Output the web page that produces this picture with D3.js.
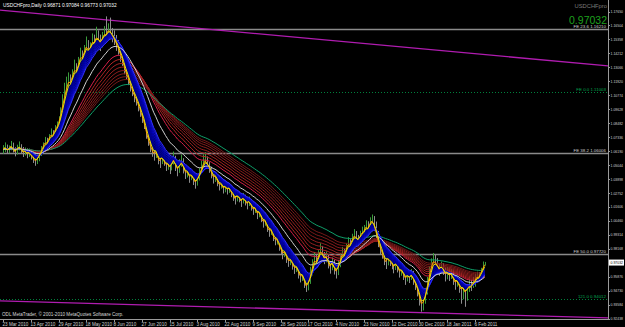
<!DOCTYPE html>
<html>
<head>
<meta charset="utf-8">
<script src="https://cdn.jsdelivr.net/npm/d3@7"></script>
<style>
html, body { margin: 0; padding: 0; background: #000; }
svg { display: block; }
text { font-family: "Liberation Sans", Arial, sans-serif; }
</style>
</head>
<body>
<svg id="chart" width="625" height="327"></svg>
<script>
// daily bars, 23 Mar 2010 .. 14 Feb 2011
var closes = [
  1.0632,1.0655,1.0618,1.0641,1.0670,1.0628,1.0602,1.0645,1.0660,1.0634,1.0597,1.0620,1.0588,1.0612,
  1.0575,1.0556,1.0531,1.0548,1.0590,1.0622,1.0664,1.0701,1.0684,1.0730,1.0762,1.0745,1.0798,1.0824,
  1.0861,1.0935,1.1020,1.1095,1.1160,1.1210,1.1185,1.1250,1.1302,1.1275,1.1348,1.1410,1.1386,1.1452,
  1.1495,1.1440,1.1478,1.1530,1.1512,1.1565,1.1540,1.1498,1.1552,1.1590,1.1575,1.1620,1.1602,1.1558,
  1.1530,1.1490,1.1455,1.1400,1.1360,1.1295,1.1240,1.1205,1.1150,1.1110,1.1062,1.1035,1.0990,1.0945,
  1.0890,1.0842,1.0765,1.0700,1.0655,1.0610,1.0585,1.0620,1.0548,1.0525,1.0570,1.0535,1.0498,1.0512,
  1.0475,1.0522,1.0560,1.0490,1.0455,1.0510,1.0535,1.0470,1.0428,1.0446,1.0395,1.0420,1.0378,1.0352,
  1.0395,1.0440,1.0485,1.0530,1.0555,1.0505,1.0470,1.0432,1.0390,1.0412,1.0365,1.0330,1.0348,1.0302,
  1.0330,1.0295,1.0318,1.0270,1.0248,1.0215,1.0260,1.0232,1.0195,1.0240,1.0205,1.0178,1.0210,1.0165,
  1.0130,1.0152,1.0095,1.0118,1.0070,1.0025,1.0048,0.9990,0.9955,0.9972,0.9915,0.9880,0.9895,0.9840,
  0.9805,0.9765,0.9790,0.9735,0.9702,0.9725,0.9680,0.9648,0.9665,0.9610,0.9575,0.9598,0.9530,0.9490,
  0.9545,0.9610,0.9685,0.9742,0.9705,0.9768,0.9810,0.9775,0.9720,0.9752,0.9690,0.9655,0.9708,0.9645,
  0.9618,0.9680,0.9735,0.9790,0.9762,0.9825,0.9870,0.9845,0.9902,0.9935,0.9910,0.9880,0.9925,0.9960,
  0.9965,1.0010,0.9978,1.0035,1.0058,1.0012,0.9940,0.9870,0.9810,0.9775,0.9720,0.9695,0.9740,0.9712,
  0.9690,0.9655,0.9700,0.9660,0.9615,0.9640,0.9595,0.9560,0.9602,0.9575,0.9610,0.9552,0.9515,0.9470,
  0.9400,0.9335,0.9380,0.9452,0.9540,0.9625,0.9690,0.9735,0.9705,0.9668,0.9632,0.9675,0.9640,0.9595,
  0.9625,0.9590,0.9612,0.9560,0.9528,0.9555,0.9502,0.9470,0.9495,0.9448,0.9485,0.9520,0.9505,0.9548,
  0.9560,0.9595,0.9580,0.9632,0.9668,0.97032
];
var highs = [
  1.0668,1.0690,1.0672,1.0665,1.0702,1.0688,1.0650,1.0671,1.0698,1.0675,1.0652,1.0648,1.0641,1.0640,
  1.0630,1.0601,1.0572,1.0580,1.0615,1.0660,1.0690,1.0735,1.0728,1.0758,1.0805,1.0790,1.0832,1.0862,
  1.0905,1.0978,1.1085,1.1180,1.1230,1.1265,1.1248,1.1290,1.1370,1.1340,1.1392,1.1468,1.1445,1.1490,
  1.1560,1.1530,1.1512,1.1585,1.1575,1.1640,1.1610,1.1575,1.1598,1.1645,1.1725,1.1668,1.1715,1.1630,
  1.1610,1.1572,1.1530,1.1478,1.1422,1.1390,1.1320,1.1280,1.1230,1.1188,1.1140,1.1098,1.1060,1.1015,
  1.0968,1.0915,1.0862,1.0790,1.0738,1.0690,1.0648,1.0702,1.0645,1.0590,1.0625,1.0605,1.0568,1.0560,
  1.0548,1.0575,1.0615,1.0580,1.0512,1.0552,1.0590,1.0560,1.0495,1.0488,1.0460,1.0462,1.0440,1.0405,
  1.0430,1.0478,1.0540,1.0592,1.0610,1.0575,1.0528,1.0490,1.0450,1.0445,1.0420,1.0382,1.0390,1.0365,
  1.0365,1.0352,1.0350,1.0335,1.0298,1.0270,1.0292,1.0285,1.0245,1.0275,1.0260,1.0230,1.0245,1.0225,
  1.0190,1.0185,1.0165,1.0150,1.0130,1.0085,1.0080,1.0062,1.0010,1.0008,0.9985,0.9940,0.9935,0.9910,
  0.9870,0.9828,0.9825,0.9805,0.9760,0.9768,0.9740,0.9705,0.9710,0.9690,0.9640,0.9635,0.9618,0.9560,
  0.9590,0.9668,0.9730,0.9790,0.9770,0.9805,0.9862,0.9840,0.9790,0.9795,0.9770,0.9712,0.9745,0.9725,
  0.9670,0.9722,0.9780,0.9832,0.9818,0.9860,0.9912,0.9895,0.9940,0.9978,0.9962,0.9930,0.9965,0.9998,
  1.0012,1.0050,1.0042,1.0075,1.0098,1.0085,1.0040,0.9962,0.9905,0.9840,0.9800,0.9760,0.9785,0.9770,
  0.9755,0.9725,0.9740,0.9728,0.9690,0.9680,0.9668,0.9620,0.9645,0.9630,0.9650,0.9635,0.9580,0.9540,
  0.9488,0.9410,0.9420,0.9495,0.9585,0.9672,0.9738,0.9782,0.9768,0.9740,0.9690,0.9712,0.9698,0.9662,
  0.9668,0.9660,0.9650,0.9640,0.9595,0.9590,0.9572,0.9530,0.9525,0.9512,0.9520,0.9565,0.9560,0.9585,
  0.9610,0.9628,0.9625,0.9660,0.9712,0.97084
];
var lows = [
  1.0598,1.0610,1.0596,1.0602,1.0625,1.0607,1.0575,1.0590,1.0624,1.0601,1.0570,1.0582,1.0560,1.0571,
  1.0550,1.0521,1.0498,1.0512,1.0535,1.0578,1.0610,1.0648,1.0650,1.0671,1.0718,1.0712,1.0730,1.0779,
  1.0802,1.0840,1.0920,1.1002,1.1070,1.1128,1.1120,1.1160,1.1228,1.1215,1.1255,1.1330,1.1340,1.1370,
  1.1410,1.1395,1.1415,1.1455,1.1460,1.1490,1.1482,1.1440,1.1470,1.1520,1.1530,1.1550,1.1540,1.1512,
  1.1490,1.1442,1.1410,1.1352,1.1318,1.1250,1.1205,1.1160,1.1108,1.1070,1.1020,1.0992,1.0945,1.0900,
  1.0850,1.0800,1.0720,1.0662,1.0610,1.0572,1.0540,1.0562,1.0510,1.0480,1.0512,1.0498,1.0455,1.0465,
  1.0430,1.0460,1.0508,1.0455,1.0412,1.0440,1.0490,1.0435,1.0390,1.0402,1.0358,1.0380,1.0340,1.0310,
  1.0335,1.0378,1.0430,1.0470,1.0510,1.0480,1.0440,1.0395,1.0352,1.0365,1.0330,1.0295,1.0310,1.0270,
  1.0280,1.0262,1.0275,1.0240,1.0210,1.0180,1.0205,1.0198,1.0160,1.0188,1.0172,1.0140,1.0168,1.0130,
  1.0095,1.0110,1.0060,1.0075,1.0035,0.9990,1.0005,0.9955,0.9915,0.9930,0.9880,0.9845,0.9852,0.9800,
  0.9770,0.9730,0.9748,0.9700,0.9668,0.9682,0.9645,0.9610,0.9625,0.9572,0.9540,0.9552,0.9495,0.9462,
  0.9475,0.9528,0.9598,0.9660,0.9670,0.9698,0.9745,0.9738,0.9690,0.9705,0.9655,0.9612,0.9640,0.9605,
  0.9572,0.9600,0.9665,0.9720,0.9730,0.9752,0.9810,0.9808,0.9835,0.9885,0.9870,0.9840,0.9862,0.9900,
  0.9920,0.9950,0.9940,0.9965,1.0010,0.9985,0.9905,0.9830,0.9768,0.9735,0.9682,0.9650,0.9680,0.9675,
  0.9648,0.9615,0.9642,0.9622,0.9580,0.9595,0.9560,0.9520,0.9548,0.9535,0.9560,0.9520,0.9478,0.9425,
  0.9350,0.9300,0.9310,0.9365,0.9440,0.9530,0.9615,0.9668,0.9660,0.9620,0.9595,0.9615,0.9602,0.9548,
  0.9565,0.9552,0.9568,0.9520,0.9480,0.9505,0.9455,0.9365,0.9402,0.9340,0.9390,0.9462,0.9470,0.9495,
  0.9505,0.9545,0.9550,0.9570,0.9615,0.96773
];

// one date label every 14 bars
var dateLabels = ["23 Mar 2010","13 Apr 2010","29 Apr 2010","18 May 2010","8 Jun 2010","27 Jun 2010",
  "15 Jul 2010","3 Aug 2010","22 Aug 2010","9 Sep 2010","28 Sep 2010","17 Oct 2010","4 Nov 2010",
  "23 Nov 2010","12 Dec 2010","30 Dec 2010","18 Jan 2011","6 Feb 2011"];
var priceTicks = [1.17650,1.16504,1.15358,1.14212,1.13066,1.11920,1.10774,1.09628,1.08482,1.07336,
  1.06190,1.05044,1.03898,1.02752,1.01606,1.00460,0.99314,0.98168,0.95876,0.94730,0.93584,0.92438];

// fibo / expansion levels drawn across the chart
var levelNames  = ["FE 23.6  1.16210", "FE 0.0  1.11003", "FE 38.2  1.06006", "FE 50.0  0.97720", "121.0  0.94012"];
var levelPrices = [1.16210, 1.11003, 1.06006, 0.97720, 0.94012];
var levelDotted = [false, true, false, false, true];

// trend lines: [bar index, price] end points
var trendTop    = [[-1.5, 1.1777], [305.3, 1.1318]];
var trendBottom = [[-1.5, 0.9388], [305.3, 0.9249]];

var symbol = "USDCHFpro";
var lastPrice = 0.97032;
var header = "USDCHFpro,Daily  0.96871 0.97084 0.96773 0.97032";

// ---------------------------------------------------------------
var svg = d3.select("#chart");
var W = 608, H = 319;

svg.append("rect").attr("width", 625).attr("height", 327).attr("fill", "#000");

var x = d3.scaleLinear().domain([0, 14]).range([3, 30.75]);
var y = d3.scaleLinear().domain([0.92438, 1.17650]).range([318.5, 11.5]);

svg.append("clipPath").attr("id", "plot")
  .append("rect").attr("x", 0).attr("y", 0).attr("width", W).attr("height", H);

var g = svg.append("g").attr("clip-path", "url(#plot)");

function ema(vals, n) {
  var k = 2 / (n + 1), e = vals[0];
  return vals.map(function(v, i) {
    e = i ? v * k + e * (1 - k) : v;
    return e;
  });
}

// levels
levelPrices.forEach(function(p, i) {
  g.append("line")
    .attr("x1", 0).attr("x2", W)
    .attr("y1", Math.round(y(p)) + 0.5).attr("y2", Math.round(y(p)) + 0.5)
    .attr("stroke", levelDotted[i] ? "#00803c" : "#8a8a8a")
    .attr("stroke-width", levelDotted[i] ? 1 : 1.6)
    .attr("stroke-dasharray", levelDotted[i] ? "1,2" : null);
});

// trend lines
var lineXY = d3.line().x(function(d) { return x(d[0]); }).y(function(d) { return y(d[1]); });
[trendTop, trendBottom].forEach(function(t) {
  g.append("path").attr("d", lineXY(t)).attr("fill", "none")
    .attr("stroke", "#b01cb0").attr("stroke-width", 1.3);
});

// bars
var idx = d3.range(closes.length);
g.selectAll("line.bar").data(idx).enter().append("line")
  .attr("class", "bar")
  .attr("x1", function(i) { return Math.round(x(i)) + 0.5; })
  .attr("x2", function(i) { return Math.round(x(i)) + 0.5; })
  .attr("y1", function(i) { return y(highs[i]); })
  .attr("y2", function(i) { return y(lows[i]); })
  .attr("stroke", function(i) { return closes[i] >= (i ? closes[i - 1] : closes[i]) ? "#3a9a3a" : "#8c8c8c"; })
  .attr("stroke-width", 1);

// moving averages
function maPath(vals) {
  return d3.line().x(function(d, i) { return x(i); }).y(function(d) { return y(d); })(vals);
}

var ribbon = [26, 30, 34, 38, 42, 46, 50, 54];
var ribbonCols = ["#d8204a", "#b42626", "#a42222", "#982020", "#8e1e1e", "#861c1c", "#7e1a1a", "#761818"];
ribbon.forEach(function(n, k) {
  g.append("path").attr("d", maPath(ema(closes, n))).attr("fill", "none")
    .attr("stroke", ribbonCols[k]).attr("stroke-width", 1);
});
g.append("path").attr("d", maPath(ema(closes, 62))).attr("fill", "none")
  .attr("stroke", "#0fa06a").attr("stroke-width", 1);

var fast = ema(closes, 3), edge = ema(closes, 11);
g.append("path")
  .attr("d", d3.area().x(function(d, i) { return x(i); })
    .y0(function(d, i) { return y(fast[i]); }).y1(function(d, i) { return y(edge[i]); })(closes))
  .attr("fill", "#000068");

var blues = [4, 5, 6, 7, 8, 9, 10, 11];
var blueCols = ["#00008c", "#000098", "#0000a4", "#0000b0", "#0404bc", "#0808c8", "#1010d8", "#3434ff"];
blues.forEach(function(n, k) {
  g.append("path").attr("d", maPath(ema(closes, n))).attr("fill", "none")
    .attr("stroke", blueCols[k]).attr("stroke-width", 1);
});

g.append("path").attr("d", maPath(ema(closes, 18))).attr("fill", "none")
  .attr("stroke", "#d0d0d0").attr("stroke-width", 1);
g.append("path").attr("d", maPath(ema(closes, 2))).attr("fill", "none")
  .attr("stroke", "#ff9a00").attr("stroke-width", 1);
g.append("path").attr("d", maPath(fast)).attr("fill", "none")
  .attr("stroke", "#e8e800").attr("stroke-width", 1);

// level labels
levelPrices.forEach(function(p, i) {
  svg.append("text")
    .attr("x", 606).attr("y", Math.round(y(p)) - 1)
    .attr("text-anchor", "end").attr("font-size", 4.4)
    .attr("fill", levelDotted[i] ? "#00a850" : "#d0d0d0")
    .text(levelNames[i]);
});

// price axis
svg.append("line").attr("x1", W + 0.5).attr("x2", W + 0.5).attr("y1", 0).attr("y2", H + 1)
  .attr("stroke", "#9a9a9a");
priceTicks.forEach(function(p) {
  svg.append("line").attr("x1", W).attr("x2", W + 2)
    .attr("y1", Math.round(y(p)) + 0.5).attr("y2", Math.round(y(p)) + 0.5).attr("stroke", "#9a9a9a");
  svg.append("text").attr("x", W + 2.5).attr("y", y(p) + 1.6)
    .attr("font-size", 4.2).attr("fill", "#d0d0d0")
    .attr("textLength", 12.5).attr("lengthAdjust", "spacingAndGlyphs")
    .text(p.toFixed(5));
});
svg.append("rect").attr("x", W + 1).attr("y", y(lastPrice) - 3).attr("width", 15).attr("height", 6)
  .attr("fill", "#ffffff");
svg.append("text").attr("x", W + 2.5).attr("y", y(lastPrice) + 1.6)
  .attr("font-size", 4.2).attr("fill", "#000")
  .attr("textLength", 12.5).attr("lengthAdjust", "spacingAndGlyphs")
  .text(lastPrice.toFixed(5));

// time axis
svg.append("line").attr("x1", 0).attr("x2", W + 1).attr("y1", H + 0.5).attr("y2", H + 0.5)
  .attr("stroke", "#9a9a9a");
dateLabels.forEach(function(s, k) {
  var xi = Math.round(x(k * 14)) + 0.5;
  svg.append("line").attr("x1", xi).attr("x2", xi).attr("y1", H).attr("y2", H + 3).attr("stroke", "#9a9a9a");
  svg.append("text").attr("x", xi - 1).attr("y", 325.5)
    .attr("font-size", 4.6).attr("fill", "#d0d0d0").text(s);
});

// captions
svg.append("text").attr("x", 3).attr("y", 7).attr("font-size", 4.8).attr("fill", "#ffffff").text(header);
svg.append("text").attr("x", 607).attr("y", 7.5).attr("text-anchor", "end")
  .attr("font-size", 5.8).attr("fill", "#7a7a7a").text(symbol);
svg.append("text").attr("x", 607).attr("y", 23.5).attr("text-anchor", "end")
  .attr("font-size", 10.5).attr("fill", "#1ea01e").text(lastPrice.toFixed(5));
svg.append("text").attr("x", 2).attr("y", 315.5).attr("font-size", 4.6).attr("fill", "#d8d8d8")
  .text("ODL MetaTrader, \u00a9 2001-2010 MetaQuotes Software Corp.");
</script>
</body>
</html>
